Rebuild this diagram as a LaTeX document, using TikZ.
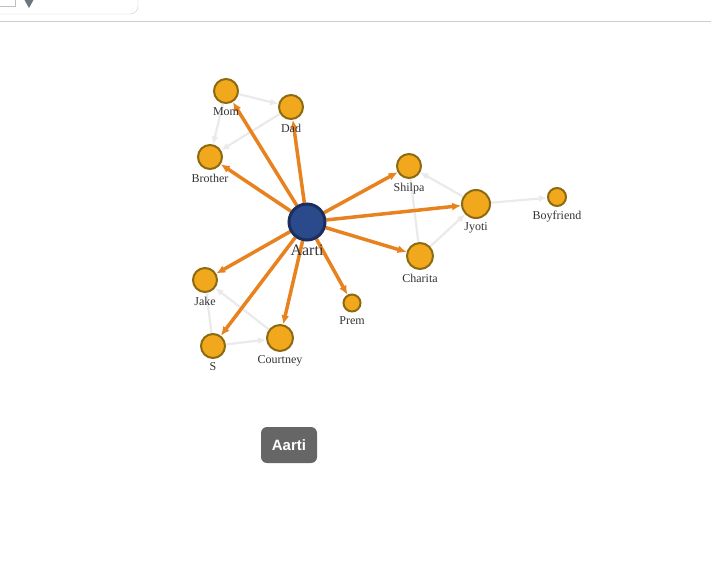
\documentclass[tikz,border=0pt]{standalone}
\usepackage{fontspec}
\setmainfont{Liberation Serif}
\newfontfamily\tipfont{Liberation Sans}
\usetikzlibrary{arrows.meta,backgrounds}
\definecolor{tiecol}{HTML}{E8821E}
\definecolor{linkcol}{HTML}{EAEAEA}
\definecolor{personfill}{HTML}{F2A81D}
\definecolor{persondraw}{HTML}{8C6A12}
\definecolor{egofill}{HTML}{2B4A8B}
\definecolor{egodraw}{HTML}{1C2E5E}
\definecolor{namecol}{HTML}{333333}
\definecolor{caretcol}{HTML}{6E7480}
\tikzset{
  person/.style={circle,fill=personfill,draw=persondraw,line width=2pt,inner sep=0pt,
    minimum size=#1},
  person/.default=24pt,
  ego/.style={circle,fill=egofill,draw=egodraw,line width=3pt,inner sep=0pt,minimum size=36pt},
  who/.style={text=namecol,font=\fontsize{12}{13}\selectfont,inner sep=1pt,yshift=-2.5pt},
  tie/.style={draw=tiecol,line width=3.5pt,-{Latex[length=9pt,width=8pt]}},
  link/.style={draw=linkcol,line width=2.2pt,-{Latex[length=8pt,width=7pt]}},
  plainlink/.style={draw=linkcol,line width=2.2pt}
}
\begin{document}
\begin{tikzpicture}[x=1pt,y=-1pt]
  \useasboundingbox (0,0) rectangle (711,563);

  % toolbar at the top
  \draw[black!20,rounded corners=8pt] (-20,-20) rectangle (138,14);
  \draw[black!25] (-5,6) -- (15,6) -- (15,-5);
  \fill[caretcol] (24,-1) -- (34,-1) -- (29,8) -- cycle;
  \draw[black!20] (0,21) -- (711,21);

  \node[ego,label={[who,font=\fontsize{16}{17}\selectfont]below:Aarti}] (aarti) at (307,222) {};
  \node[person,label={[who]below:Mom}] (mom) at (226,91) {};
  \node[person,label={[who]below:Dad}] (dad) at (291,107) {};
  \node[person,label={[who]below:Brother}] (brother) at (210,157) {};
  \node[person,label={[who]below:Shilpa}] (shilpa) at (409,166) {};
  \node[person=28pt,label={[who]below:Jyoti}] (jyoti) at (476,204) {};
  \node[person=18pt,label={[who]below:Boyfriend}] (boyfriend) at (557,197) {};
  \node[person=26pt,label={[who]below:Charita}] (charita) at (420,256) {};
  \node[person,label={[who]below:Jake}] (jake) at (205,280) {};
  \node[person,label={[who]below:S}] (s) at (213,346) {};
  \node[person=26pt,label={[who]below:Courtney}] (courtney) at (280,338) {};
  \node[person=17pt,label={[who]below:Prem}] (prem) at (352,303) {};

  \begin{scope}[on background layer]
    \draw[link] (mom) -- (dad);
    \draw[link] (mom) -- (brother);
    \draw[link] (dad) -- (brother);
    \draw[link] (jyoti) -- (shilpa);
    \draw[link] (charita) -- (jyoti);
    \draw[plainlink] (shilpa) -- (charita);
    \draw[link] (jyoti) -- (boyfriend);
    \draw[link] (courtney) -- (jake);
    \draw[plainlink] (jake) -- (s);
    \draw[link] (s) -- (courtney);

    \foreach \who in {mom,dad,brother,shilpa,jyoti,charita,prem,courtney,s,jake}
      \draw[tie] (aarti) -- (\who);
  \end{scope}

  % tooltip
  \node[fill=black!60,rounded corners=6pt,text=white,font=\tipfont\bfseries\fontsize{15}{16}\selectfont,
    minimum width=56pt,minimum height=36pt] (tip) at (289,445) {Aarti};
\end{tikzpicture}
\end{document}
